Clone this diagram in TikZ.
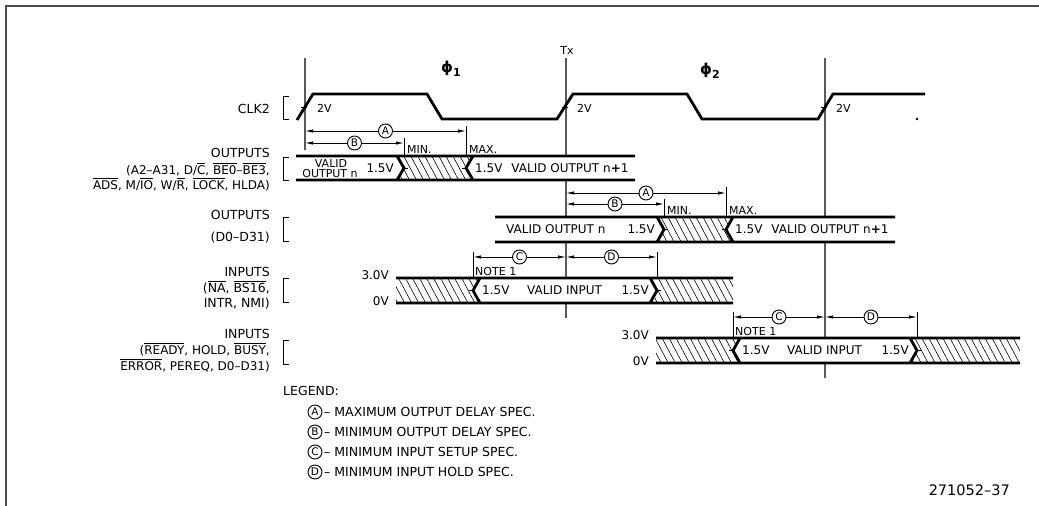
\documentclass[tikz,border=0pt]{standalone}
\usepackage{fontspec}
\setmainfont{DejaVu Sans}
\usepackage{amsmath}
\usetikzlibrary{arrows.meta,patterns.meta}
\newcommand\ovl[1]{\ensuremath{\overline{\mbox{#1}}}}
\begin{document}
\begin{tikzpicture}[x=1pt,y=-1pt,
  refl/.style={draw=black!65, line width=1.3},
  wave/.style={line width=2.8, line cap=butt, line join=miter},
  thinl/.style={line width=0.9},
  dim/.style={line width=0.9, {Latex[length=8,width=3.4]}-{Latex[length=8,width=3.4]}},
  circ/.style={circle, draw, line width=0.9, fill=white, inner sep=0, minimum size=14, font=\fontsize{10.5}{10.5}\selectfont},
  txt/.style={font=\fontsize{12.5}{14}\selectfont, inner sep=0},
  lab/.style={font=\fontsize{12}{14}\selectfont, inner sep=0},
  sm/.style={font=\fontsize{12}{13}\selectfont, inner sep=0},
  mn/.style={font=\fontsize{11}{12}\selectfont, inner sep=0},
  hatch/.style={pattern={Lines[angle=-62,distance=6.2pt,line width=0.6pt]}, pattern color=black},
]
\useasboundingbox (0,0) rectangle (1039,506);
% frame
\draw[line width=2, black!70] (6,506) -- (6,5.5) -- (1039,5.5);

% reference lines
\draw[refl] (305,58) -- (305,150);
\draw[refl] (566,58) -- (566,318);
\draw[refl] (825,58) -- (825,378);
\node[font=\fontsize{11}{12}\selectfont, inner sep=0] (tx) at (567,50) {Tx};
\node[inner sep=0, anchor=base west] (ph1) at (441,72) {\fontsize{15}{16}\selectfont\bfseries ϕ\raisebox{-4pt}{\fontsize{11}{12}\selectfont 1}};
\node[inner sep=0, anchor=base west] (ph2) at (700,74) {\fontsize{15}{16}\selectfont\bfseries ϕ\raisebox{-4pt}{\fontsize{11}{12}\selectfont 2}};

% CLK2
\draw[wave] (297,120) -- (313,94) -- (427,94) -- (442,119) -- (557,119) -- (573,94) -- (687,94) -- (702,119) -- (818,119) -- (833,94) -- (925,94);
\draw[thinl] (301,107) -- (307,107) (562,107) -- (568,107) (821,107) -- (827,107);
\node[mn, anchor=west] (v1) at (317,108) {2V};
\node[mn, anchor=west] (v2) at (577,108) {2V};
\node[mn, anchor=west] (v3) at (836,108) {2V};
\fill (917,119) circle (1.3);
\node[txt, anchor=base east] (clk) at (270,113) {CLK2};
\draw[thinl] (289,96) -- (283,96) -- (283,119) -- (289,119);

% labels
\node[txt, anchor=base east] (o1a) at (270,157) {OUTPUTS};
\node[lab, anchor=base east] (o1b) at (270,174) {(A2–A31, D/\ovl{C}, \ovl{BE0}–\ovl{BE3},};
\node[lab, anchor=base east] (o1c) at (270,189) {\ovl{ADS}, M/\ovl{IO}, W/\ovl{R}, \ovl{LOCK}, HLDA)};
\draw[thinl] (289,157) -- (283,157) -- (283,180) -- (289,180);

\node[txt, anchor=base east] (o2a) at (270,219) {OUTPUTS};
\node[txt, anchor=base east] (o2b) at (270,241) {(D0–D31)};
\draw[thinl] (289,217) -- (283,217) -- (283,241) -- (289,241);

\node[txt, anchor=base east] (i1a) at (270,276) {INPUTS};
\node[txt, anchor=base east] (i1b) at (270,292) {(\ovl{NA}, \ovl{BS16},};
\node[txt, anchor=base east] (i1c) at (270,307) {INTR, NMI)};
\draw[thinl] (289,278) -- (283,278) -- (283,302) -- (289,302);

\node[txt, anchor=base east] (i2a) at (270,338) {INPUTS};
\node[lab, anchor=base east] (i2b) at (270,354) {(\ovl{READY}, HOLD, \ovl{BUSY},};
\node[lab, anchor=base east] (i2c) at (270,370) {\ovl{ERROR}, PEREQ, D0–D31)};
\draw[thinl] (289,340) -- (283,340) -- (283,364) -- (289,364);

% ROW 1
\fill[white] (296,156) rectangle (635,180);
\path[hatch] (397,156) -- (473,156) -- (466,168) -- (473,180) -- (397,180) -- (404,168) -- cycle;
\draw[wave] (296,156) -- (635,156) (296,180) -- (635,180)
  (397,156) -- (404,168) -- (397,180) (473,156) -- (466,168) -- (473,180);
\draw[thinl] (404,168) -- (408,168) (466,168) -- (462,168);
\node[mn] (r1v) at (331,163) {VALID};
\node[mn] (r1o) at (330,173.5) {OUTPUT n};
\node[sm, anchor=east] (r1a) at (394,168) {1.5V};
\node[sm, anchor=west] (r1b) at (475,168) {1.5V\hspace{9pt}VALID OUTPUT n\textbf{+}1};
\draw[thinl] (404,138) -- (404,156) (466,126) -- (466,156);
\node[mn, anchor=base west] (min1) at (407,153) {MIN.};
\node[mn, anchor=base west] (max1) at (469,153) {MAX.};
\coordinate (a1l) at (305,131); \coordinate (a1r) at (466,131);
\coordinate (b1l) at (305,143); \coordinate (b1r) at (404,143);
\draw[dim] (a1l) -- (a1r) node[circ, midway] (ca1) {A};
\draw[dim] (b1l) -- (b1r) node[circ, midway] (cb1) {B};

% ROW 2
\fill[white] (495,217) rectangle (895,242);
\path[hatch] (657,217) -- (733,217) -- (726,229.5) -- (733,242) -- (657,242) -- (664,229.5) -- cycle;
\draw[wave] (495,217) -- (895,217) (495,242) -- (895,242)
  (657,217) -- (664,229.5) -- (657,242) (733,217) -- (726,229.5) -- (733,242);
\draw[thinl] (664,229.5) -- (668,229.5) (726,229.5) -- (722,229.5);
\node[sm, anchor=west] (r2a) at (506,229.5) {VALID OUTPUT n};
\node[sm, anchor=east] (r2b) at (655,229.5) {1.5V};
\node[sm, anchor=west] (r2c) at (735,229.5) {1.5V\hspace{9pt}VALID OUTPUT n\textbf{+}1};
\draw[thinl] (664,199) -- (664,217) (726,187) -- (726,217);
\node[mn, anchor=base west] (min2) at (667,214) {MIN.};
\node[mn, anchor=base west] (max2) at (729,214) {MAX.};
\coordinate (a2l) at (566,193); \coordinate (a2r) at (726,193);
\coordinate (b2l) at (566,204); \coordinate (b2r) at (664,204);
\draw[dim] (a2l) -- (a2r) node[circ, midway] (ca2) {A};
\draw[dim] (b2l) -- (b2r) node[circ, midway] (cb2) {B};

% ROW 3
\fill[white] (396,278) rectangle (733,303);
\path[hatch] (396,278) -- (480,278) -- (473,290.5) -- (480,303) -- (396,303) -- cycle;
\path[hatch] (650,278) -- (733,278) -- (733,303) -- (650,303) -- (657,290.5) -- cycle;
\draw[wave] (396,278) -- (733,278) (396,303) -- (733,303)
  (480,278) -- (473,290.5) -- (480,303) (650,278) -- (657,290.5) -- (650,303);
\draw[thinl] (473,290.5) -- (469,290.5) (657,290.5) -- (661,290.5);
\node[sm, anchor=east] (r3h) at (389,275) {3.0V};
\node[sm, anchor=east] (r3l) at (389,301) {0V};
\node[sm, anchor=west] (r3a) at (482,290.5) {1.5V};
\node[sm, anchor=west] (r3b) at (527,290.5) {VALID INPUT};
\node[sm, anchor=east] (r3c) at (649,290.5) {1.5V};
\draw[thinl] (473,252) -- (473,278) (657,252) -- (657,278);
\node[mn, anchor=base west] (n1) at (475,275) {NOTE 1};
\coordinate (c3l) at (473,257); \coordinate (c3r) at (566,257); \coordinate (d3r) at (657,257);
\draw[dim] (c3l) -- (c3r) node[circ, midway] (cc3) {C};
\draw[dim] (c3r) -- (d3r) node[circ, midway] (cd3) {D};

% ROW 4
\fill[white] (656,338) rectangle (1020,363);
\path[hatch] (656,338) -- (740,338) -- (733,350.5) -- (740,363) -- (656,363) -- cycle;
\path[hatch] (910,338) -- (1020,338) -- (1020,363) -- (910,363) -- (917,350.5) -- cycle;
\draw[wave] (656,338) -- (1020,338) (656,363) -- (1020,363)
  (740,338) -- (733,350.5) -- (740,363) (910,338) -- (917,350.5) -- (910,363);
\draw[thinl] (733,350.5) -- (729,350.5) (917,350.5) -- (921,350.5);
\node[sm, anchor=east] (r4h) at (649,335) {3.0V};
\node[sm, anchor=east] (r4l) at (649,361) {0V};
\node[sm, anchor=west] (r4a) at (742,350.5) {1.5V};
\node[sm, anchor=west] (r4b) at (787,350.5) {VALID INPUT};
\node[sm, anchor=east] (r4c) at (909,350.5) {1.5V};
\draw[thinl] (733,312) -- (733,338) (917,312) -- (917,338);
\node[mn, anchor=base west] (n2) at (735,335) {NOTE 1};
\coordinate (c4l) at (733,317); \coordinate (c4r) at (825,317); \coordinate (d4r) at (917,317);
\draw[dim] (c4l) -- (c4r) node[circ, midway] (cc4) {C};
\draw[dim] (c4r) -- (d4r) node[circ, midway] (cd4) {D};

% legend
\node[txt, anchor=base west] (leg) at (283,395) {LEGEND:};
\foreach \L/\T [count=\i] in {A/MAXIMUM OUTPUT DELAY SPEC., B/MINIMUM OUTPUT DELAY SPEC., C/MINIMUM INPUT SETUP SPEC., D/MINIMUM INPUT HOLD SPEC.}{
  \node[circ] (lc\i) at (315,392+20*\i) {\L};
  \node[txt, anchor=base west] (lt\i) at (324,396.5+20*\i) {–\hspace{4pt}\T};
}
\node[font=\fontsize{14.5}{16}\selectfont, inner sep=0, anchor=base east] (fig) at (1010,495) {271052–37};
\end{tikzpicture}
\end{document}
